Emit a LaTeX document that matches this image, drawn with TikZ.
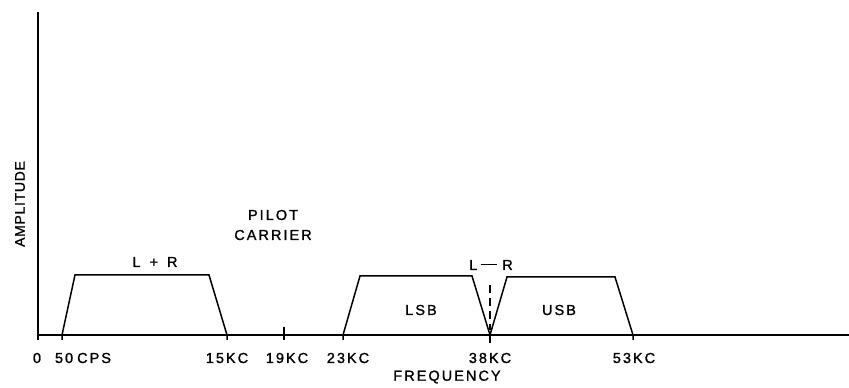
\documentclass[tikz,border=0pt]{standalone}
\usepackage{fontspec}
\setmainfont{Liberation Sans}
\newfontfamily\plotfont[LetterSpace=14, FakeBold=1.2]{Liberation Sans}
\newfontfamily\axisfont[LetterSpace=5, FakeBold=1.2]{Liberation Sans}
\usetikzlibrary{positioning}

\begin{document}
\begin{tikzpicture}[x=1pt, y=1pt, line width=1.5pt,
  lbl/.style={inner sep=0pt, font=\plotfont\fontsize{14.5}{20}\selectfont}]

\useasboundingbox (-38,-53) rectangle (811,335);

% axes
\draw (0,323) -- (0,-5);
\draw (0,0) -- (811,0);

% L+R band
\draw (24,-5) -- (24,0) -- (37,60) -- (171,60) -- (189,0) -- (189,-5);

% pilot tick
\draw (246,8) -- (246,-5);

% LSB and USB bands
\draw (305,-5) -- (305,0) -- (322,59) -- (434,59) -- (452,0)
      -- (469,58) -- (577,58) -- (595,0) -- (595,-5);
\draw (452,0) -- (452,-8);
\draw[line width=1.2pt, dash pattern=on 8pt off 5pt] (452,50) -- (452,5);

% texts
\node[lbl, font=\axisfont\fontsize{14}{20}\selectfont] (amp) at (-18,131) [rotate=90] {AMPLITUDE};
\node[lbl] (lpr) at (117,73) {L\hspace{9pt}+\hspace{9pt}R};
\node[lbl, align=center] (pilot) at (235,110) {PILOT\\CARRIER};
\node[lbl] (lmr) at (453,70) {L\hspace{4pt}\rule[0.32em]{16pt}{1.4pt}\hspace{5pt}R};
\node[lbl] (lsb) at (383,25) {LSB};
\node[lbl] (usb) at (521,25) {USB};

\node[lbl] (f0) at (-1,-23) {0};
\node[lbl] (f50) at (45,-23) {50\hspace{4pt}CPS};
\node[lbl] (f15) at (189,-23) {15\hspace{2pt}KC};
\node[lbl] (f19) at (249,-23) {19\hspace{2pt}KC};
\node[lbl] (f23) at (310,-23) {23\hspace{2pt}KC};
\node[lbl] (f38) at (452,-23) {38\hspace{2pt}KC};
\node[lbl] (f53) at (596,-23) {53\hspace{2pt}KC};
\node[lbl] (freq) at (409,-42) {FREQUENCY};

\end{tikzpicture}
\end{document}
